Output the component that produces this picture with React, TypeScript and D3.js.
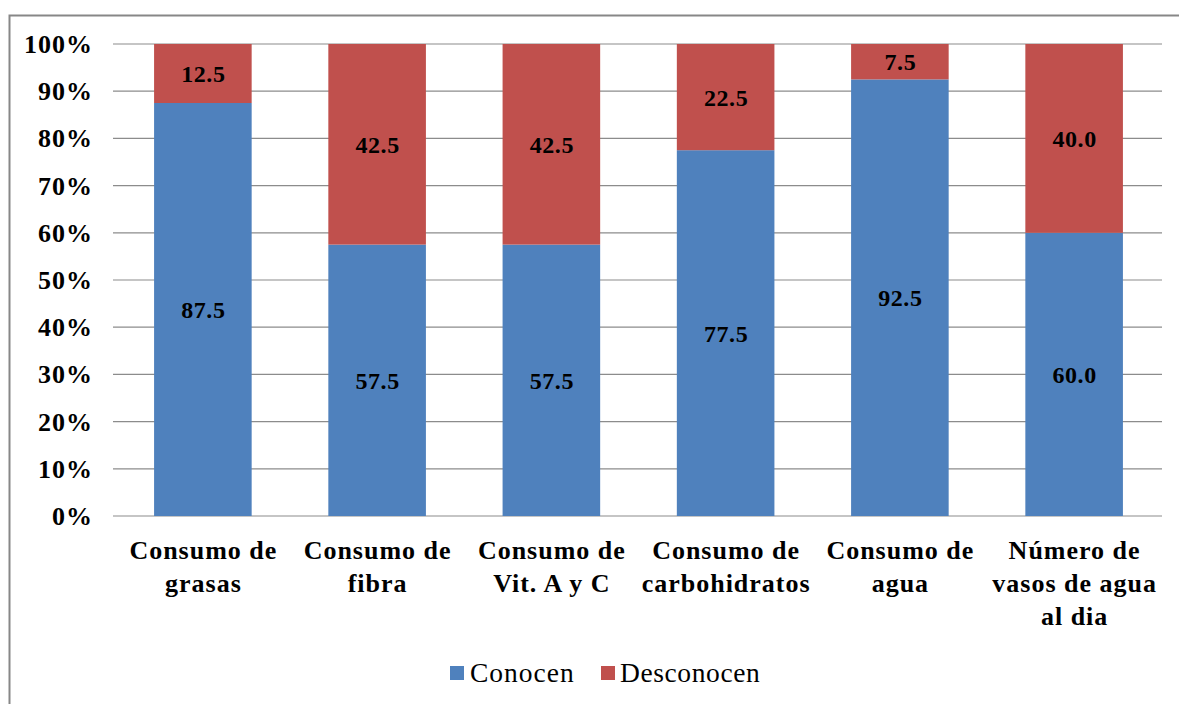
import React from "react";
import * as d3 from "d3";

const categories: string[][] = [
  ["Consumo de", "grasas"],
  ["Consumo de", "fibra"],
  ["Consumo de", "Vit. A y C"],
  ["Consumo de", "carbohidratos"],
  ["Consumo de", "agua"],
  ["Número de", "vasos de agua", "al dia"],
];
const conocen: number[] = [87.5, 57.5, 57.5, 77.5, 92.5, 60.0];
const desconocen: number[] = [12.5, 42.5, 42.5, 22.5, 7.5, 40.0];
const yTicks: number[] = [0, 10, 20, 30, 40, 50, 60, 70, 80, 90, 100];
const seriesNames: string[] = ["Conocen", "Desconocen"];
const colors: string[] = ["#4F81BD", "#C0504D"];

const W = 1179;
const H = 704;
const FONT = "Liberation Serif";

export default function App() {
  const left = 114;
  const right = 1163;
  const top = 44;
  const bottom = 516;
  const x = d3
    .scaleBand<number>()
    .domain(categories.map((_, i) => i))
    .range([left, right])
    .paddingInner(0.44)
    .paddingOuter(0.23);
  const y = d3.scaleLinear().domain([0, 100]).range([bottom, top]);

  return (
    <div style={{ position: "fixed", left: 0, top: 0 }}>
      <svg width={W} height={H} style={{ display: "block", background: "#fff", fontFamily: FONT }}>
        <rect x={0} y={0} width={W} height={H} fill="#fff" />
        <path d={`M9.5,${H + 5}V15.5H${W + 5}`} fill="none" stroke="#878787" strokeWidth={2} />
        {yTicks.map((t) => (
          <line key={t} x1={left - 1} x2={right - 1} y1={y(t)} y2={y(t)} stroke="#8c8c8c" strokeWidth={1.2} />
        ))}
        {yTicks.map((t) => (
          <text
            key={"l" + t}
            x={93}
            y={y(t) + 9}
            textAnchor="end"
            style={{ fontFamily: FONT, fontWeight: "bold", fontSize: 26, letterSpacing: 1 }}
            fill="#000"
          >
            {t + "%"}
          </text>
        ))}
        {categories.map((_, i) => {
          const c = conocen[i];
          const dv = desconocen[i];
          const total = c + dv;
          const cPct = (c / total) * 100;
          const bx = x(i)!;
          const bw = x.bandwidth();
          return (
            <g key={i}>
              <rect x={bx} y={y(cPct)} width={bw} height={y(0) - y(cPct)} fill={colors[0]} />
              <rect x={bx} y={y(100)} width={bw} height={y(cPct) - y(100)} fill={colors[1]} />
              <text
                x={bx + bw / 2 + 0.5}
                y={y(cPct / 2) + 8.5}
                textAnchor="middle"
                style={{ fontFamily: FONT, fontWeight: "bold", fontSize: 24, letterSpacing: 0.6 }}
              >
                {c.toFixed(1)}
              </text>
              <text
                x={bx + bw / 2 + 0.5}
                y={y(cPct + (100 - cPct) / 2) + 8.5}
                textAnchor="middle"
                style={{ fontFamily: FONT, fontWeight: "bold", fontSize: 24, letterSpacing: 0.6 }}
              >
                {dv.toFixed(1)}
              </text>
            </g>
          );
        })}
        {categories.map((lines, i) => (
          <text
            key={"x" + i}
            textAnchor="middle"
            style={{ fontFamily: FONT, fontWeight: "bold", fontSize: 26, letterSpacing: 1 }}
          >
            {lines.map((ln, j) => (
              <tspan key={j} x={x(i)! + x.bandwidth() / 2 + 0.5} y={559 + j * 33}>
                {ln}
              </tspan>
            ))}
          </text>
        ))}
        <rect x={450} y={666} width={14} height={14} fill={colors[0]} />
        <text x={470} y={682} style={{ fontFamily: FONT, fontSize: 27.5, letterSpacing: 1 }} fill="#000">
          {seriesNames[0]}
        </text>
        <rect x={601} y={666} width={14} height={14} fill={colors[1]} />
        <text x={620} y={682} style={{ fontFamily: FONT, fontSize: 27.5, letterSpacing: 0.6 }} fill="#000">
          {seriesNames[1]}
        </text>
      </svg>
    </div>
  );
}
